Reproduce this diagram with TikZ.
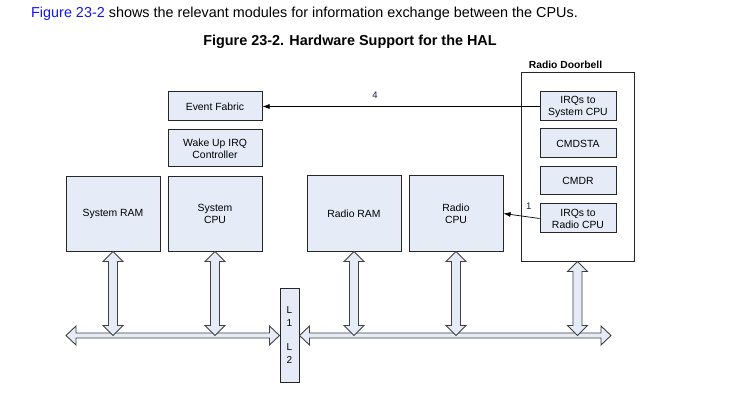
\documentclass[tikz,border=0pt]{standalone}
\usepackage{fontspec}
\setmainfont{Liberation Sans}
\usetikzlibrary{calc,arrows.meta}
\definecolor{boxfill}{RGB}{230,236,247}
\definecolor{linkblue}{RGB}{20,20,245}
\definecolor{numblue}{RGB}{20,30,70}
\tikzset{
  block/.style={draw=black!85, line width=1pt, fill=boxfill, inner sep=1pt,
    align=center, font=\fontsize{10.4}{12}\selectfont, text=black},
  busarrow/.style={draw=black!75, line width=0.9pt, fill=boxfill, line join=miter},
  sig/.style={draw=black, line width=0.7pt, -{Latex[length=7pt,width=5pt]}},
  signum/.style={font=\fontsize{9.5}{10}\selectfont, text=numblue}
}
% vertical double-headed bus arrow from the bottom of a block down to the bus
\newcommand\vbusarrow[2]{%
  \draw[busarrow] let \p1=(#1), \p2=(#2) in
    (\x1,\y1) -- (\x1+10pt,\y1-10pt) -- (\x1+4.5pt,\y1-10pt)
    -- (\x1+4.5pt,\y2+10pt) -- (\x1+10pt,\y2+10pt) -- (\x1,\y2)
    -- (\x1-10pt,\y2+10pt) -- (\x1-4.5pt,\y2+10pt)
    -- (\x1-4.5pt,\y1-10pt) -- (\x1-10pt,\y1-10pt) -- cycle;}
% horizontal double-headed bus segment between two points
\newcommand\hbusarrow[2]{%
  \draw[busarrow] let \p1=(#1), \p2=(#2) in
    (\x1,\y1) -- (\x1+10pt,\y1+9.5pt) -- (\x1+10pt,\y1+2.5pt)
    -- (\x2-10pt,\y1+2.5pt) -- (\x2-10pt,\y1+9.5pt) -- (\x2,\y1)
    -- (\x2-10pt,\y1-9.5pt) -- (\x2-10pt,\y1-2.5pt)
    -- (\x1+10pt,\y1-2.5pt) -- (\x1+10pt,\y1-9.5pt) -- cycle;}
\begin{document}
\begin{tikzpicture}[x=1pt,y=-1pt]
\useasboundingbox[fill=white] (0,0) rectangle (730,395);

% caption lines
\node[anchor=west, inner sep=0pt, font=\fontsize{14.4}{16}\selectfont] (intro) at (31,14)
  {\textcolor{linkblue}{Figure 23-2} shows the relevant modules for information exchange between the CPUs.};
\node[inner sep=0pt, font=\bfseries\fontsize{14.4}{16}\selectfont] (title) at (350,42)
  {Figure 23-2. Hardware Support for the HAL};

% system side
\node[block, minimum width=94pt, minimum height=29pt] (ef) at (215,106.5) {Event Fabric};
\node[block, minimum width=94pt, minimum height=37pt] (wu) at (215,148.5) {Wake Up IRQ\\Controller};
\node[block, minimum width=94pt, minimum height=74pt] (sram) at (113,214) {System RAM};
\node[block, minimum width=94pt, minimum height=74pt] (scpu) at (215,214) {System\\CPU};

% radio side
\node[block, minimum width=94pt, minimum height=75pt] (rram) at (354,213.5) {Radio RAM};
\node[block, minimum width=94pt, minimum height=75pt] (rcpu) at (456,213.5) {Radio\\CPU};

% radio doorbell
\node[draw=black!85, line width=1pt, fill=white, minimum width=113pt, minimum height=188pt] (db) at (577.5,167) {};
\node[inner sep=0pt, font=\bfseries\fontsize{10.3}{12}\selectfont] (dblabel) at (565.5,64.5) {Radio Doorbell};
\node[block, minimum width=76pt, minimum height=29pt] (irqs) at (578,106.5) {IRQs to\\System CPU};
\node[block, minimum width=76pt, minimum height=29pt] (cmdsta) at (578,143.5) {CMDSTA};
\node[block, minimum width=76pt, minimum height=28pt] (cmdr) at (578,180.5) {CMDR};
\node[block, minimum width=76pt, minimum height=29pt] (irqr) at (578,218.5) {IRQs to\\Radio CPU};

% interrupt signals
\draw[sig] (irqs.west) -- node[signum, pos=0.594, above=4pt] {4} (ef.east);
\draw[sig] (irqr.west) -- node[signum, pos=0.3, above=4pt] {1} (rcpu.east);

% bus and L1/L2 bridge
\node[block, minimum width=19pt, minimum height=94pt, inner sep=0pt, font=\fontsize{10}{13}\selectfont] (l12) at (289.5,335) {L\\1\\[11pt]L\\2};
\coordinate (busW) at (66,335.5);
\coordinate (busE) at (611,335.5);
\hbusarrow{busW}{l12.west |- busW}
\hbusarrow{l12.east |- busE}{busE}

\vbusarrow{sram.south}{sram.south |- busW}
\vbusarrow{scpu.south}{scpu.south |- busW}
\vbusarrow{rram.south}{rram.south |- busW}
\vbusarrow{rcpu.south}{rcpu.south |- busW}
\vbusarrow{db.south}{db.south |- busW}
\end{tikzpicture}
\end{document}
